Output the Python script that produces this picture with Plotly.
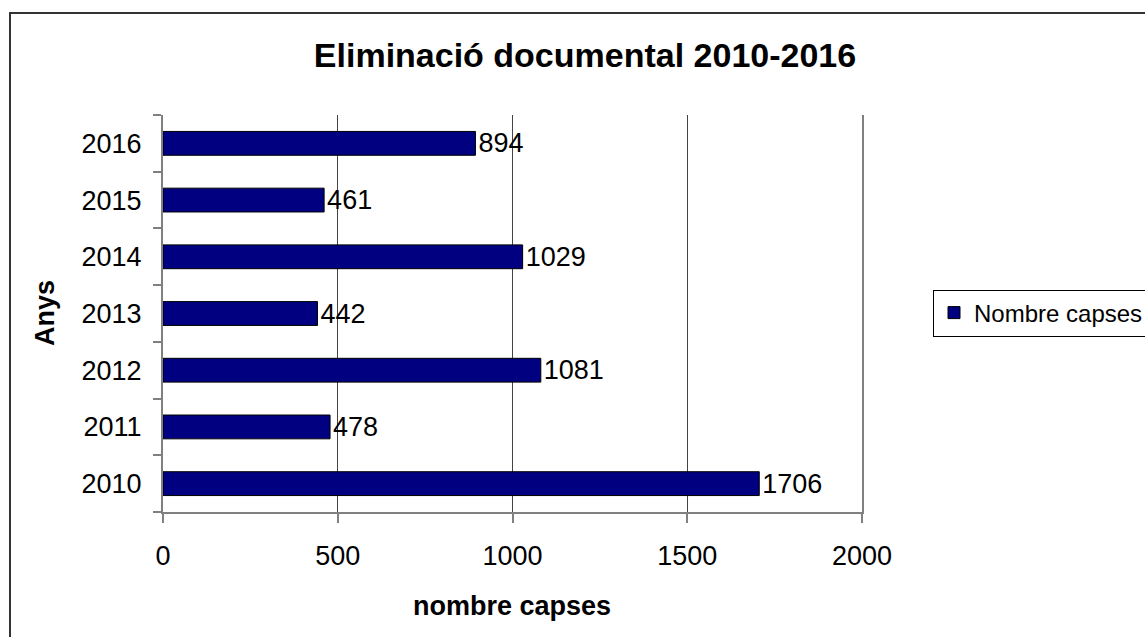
import plotly.graph_objects as go

years = ["2010", "2011", "2012", "2013", "2014", "2015", "2016"]
boxes = [1706, 478, 1081, 442, 1029, 461, 894]
x_ticks = [0, 500, 1000, 1500, 2000]
series_name = "Nombre capses"
title_text = "Eliminació documental 2010-2016"
x_title = "nombre capses"
y_title = "Anys"

FONT = "Liberation Sans, Arial, sans-serif"

fig = go.Figure()
fig.add_trace(go.Bar(
    x=boxes, y=years, orientation="h", name=series_name,
    marker=dict(color="#000080", line=dict(color="#000000", width=1)),
    width=0.42,
    text=[str(v) for v in boxes], textposition="outside", constraintext="none",
    textfont=dict(size=27, color="#000000", family=FONT),
    cliponaxis=False, showlegend=True,
))

L, T, W, H = 163, 115, 699, 397
FW, FH = 1145, 637
fig.update_layout(
    width=FW, height=FH,
    margin=dict(l=L, r=FW - L - W, t=T, b=FH - T - H, autoexpand=False),
    paper_bgcolor="white", plot_bgcolor="white",
    font=dict(family=FONT, size=27, color="#000000"),
    title=dict(text="<b>" + title_text + "</b>", x=585 / FW, xanchor="center",
               y=1 - 55 / FH, yanchor="middle", font=dict(size=34, family=FONT)),
    showlegend=True,
    legend=dict(xref="container", yref="container",
                x=933 / FW, xanchor="left", y=1 - 313 / FH, yanchor="middle",
                bordercolor="#000000", borderwidth=1, bgcolor="white",
                font=dict(size=24, family=FONT), itemwidth=30,
                tracegroupgap=0),
    xaxis=dict(
        range=[0, 2000], tickvals=x_ticks, ticktext=[str(v) for v in x_ticks],
        showgrid=True, gridcolor="#444444", gridwidth=1,
        zeroline=False, showline=True, linecolor="#808080", linewidth=2,
        ticks="outside", ticklen=9, tickcolor="#808080", tickwidth=2,
        ticklabelstandoff=10, tickfont=dict(size=27),
    ),
    yaxis=dict(
        categoryorder="array", categoryarray=years,
        showgrid=False, zeroline=False, showline=True, linecolor="#808080", linewidth=2,
        mirror=True,
        ticks="outside", ticklen=8, tickcolor="#808080", tickwidth=2, tickson="boundaries",
        ticklabelstandoff=14, tickfont=dict(size=27),
    ),
    bargap=0.58,
)

fig.add_annotation(text="<b>" + x_title + "</b>", xref="paper", yref="paper",
                   x=(512 - L) / W, y=(T + H - 606) / H, xanchor="center", yanchor="middle",
                   showarrow=False, font=dict(size=27))
fig.add_annotation(text="<b>" + y_title + "</b>", xref="paper", yref="paper",
                   x=(45 - L) / W, y=(T + H - 313) / H, xanchor="center", yanchor="middle",
                   showarrow=False, textangle=-90, font=dict(size=27))

# outer chart border
fig.add_shape(type="rect", xref="paper", yref="paper",
              x0=(10 - L) / W, x1=(1160 - L) / W,
              y0=(T + H - 660) / H, y1=(T + H - 13) / H,
              line=dict(color="#333333", width=2), fillcolor="rgba(0,0,0,0)", layer="below")

fig.write_html("out.html")
